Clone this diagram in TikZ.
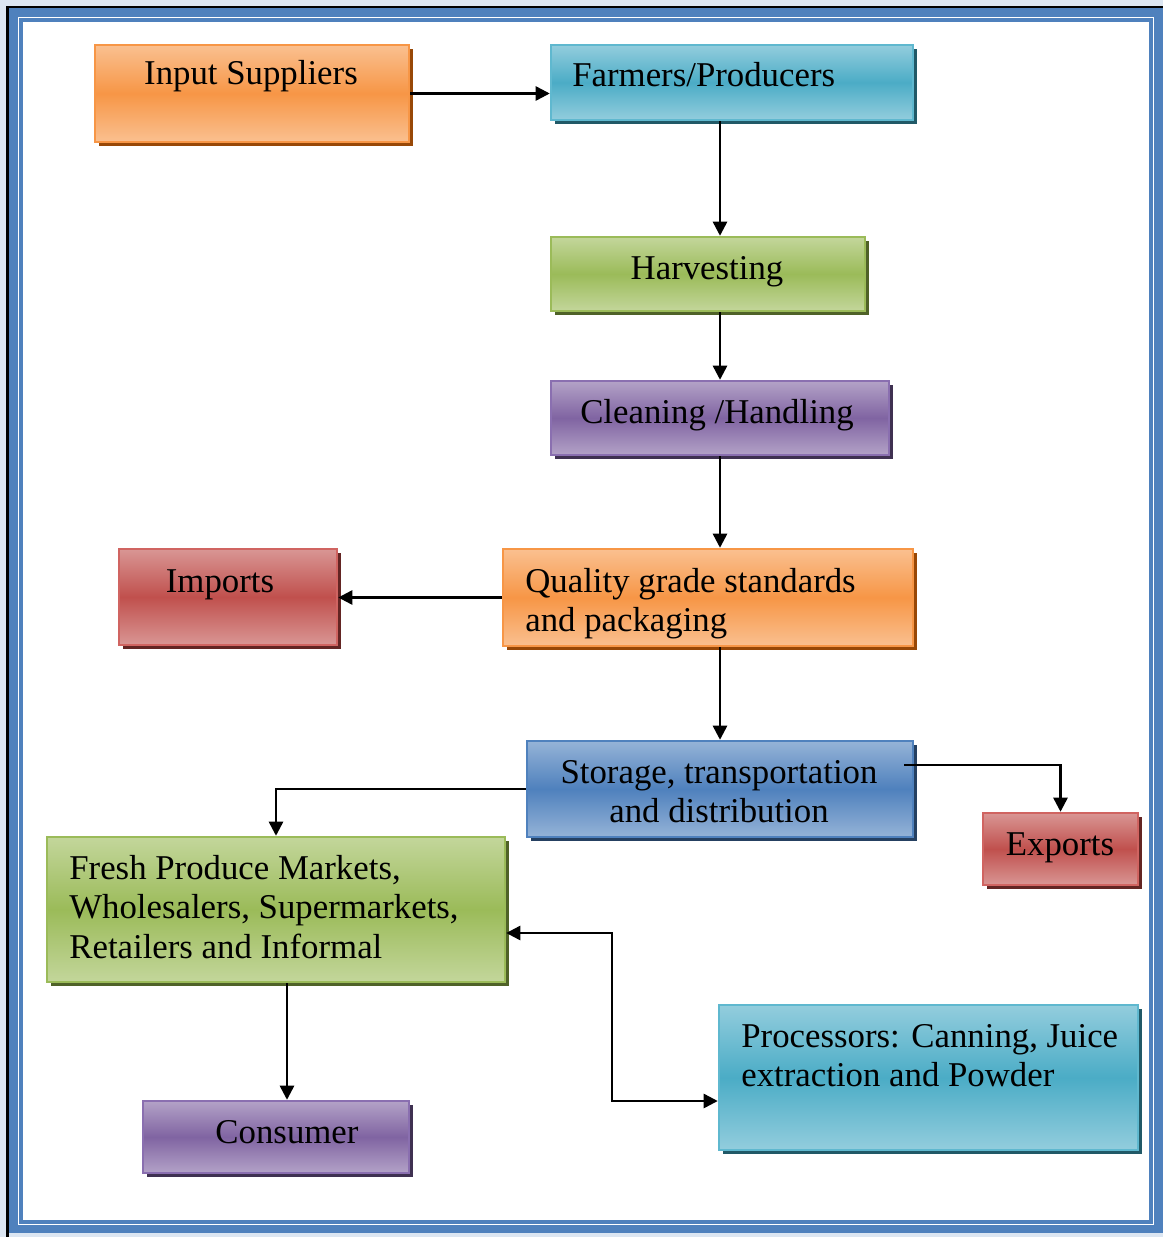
\documentclass[tikz,border=0pt]{standalone}
\usepackage{fontspec}
\setmainfont{Liberation Serif}
\usetikzlibrary{arrows.meta, positioning, calc, fit, shadows}

\definecolor{orangemid}{HTML}{F79646}
\definecolor{orangelight}{HTML}{FAC090}
\definecolor{orangeline}{HTML}{F79646}
\definecolor{orangeshade}{HTML}{984807}
\definecolor{aquamid}{HTML}{4BACC6}
\definecolor{aqualight}{HTML}{93CDDD}
\definecolor{aqualine}{HTML}{5FB8CF}
\definecolor{aquashade}{HTML}{215967}
\definecolor{greenmid}{HTML}{9BBB59}
\definecolor{greenlight}{HTML}{C3D69B}
\definecolor{greenline}{HTML}{9BBB59}
\definecolor{greenshade}{HTML}{4F6228}
\definecolor{purplemid}{HTML}{8064A2}
\definecolor{purplelight}{HTML}{B3A2C7}
\definecolor{purpleline}{HTML}{8A6FB0}
\definecolor{purpleshade}{HTML}{3F3151}
\definecolor{redmid}{HTML}{C0504D}
\definecolor{redlight}{HTML}{D99694}
\definecolor{redline}{HTML}{D06461}
\definecolor{redshade}{HTML}{632523}
\definecolor{bluemid}{HTML}{4F81BD}
\definecolor{bluelight}{HTML}{95B3D7}
\definecolor{blueline}{HTML}{4F81BD}
\definecolor{blueshade}{HTML}{254061}
\definecolor{pagebg}{HTML}{DCE6F2}

\tikzset{
  colbox/.style={inner sep=0pt, line width=1.4pt, draw=#1line,
    top color=#1light, bottom color=#1light, middle color=#1mid,
    drop shadow={shadow xshift=2.3pt, shadow yshift=-2.3pt, fill=#1shade, opacity=1}},
  txt/.style={inner sep=0pt, font=\fontsize{19.8}{22.4}\selectfont},
  arr/.style={line width=1.4pt, -{Triangle[length=8pt,width=8pt]}},
  arrtwo/.style={line width=1.4pt, {Triangle[length=8pt,width=8pt]}-{Triangle[length=8pt,width=8pt]}}
}

\begin{document}
\begin{tikzpicture}[x=0.02cm, y=-0.02cm]
  \useasboundingbox (0,0) rectangle (1163,1237);

  % Page frame
  \fill[pagebg] (0,0) rectangle (1163,1237);
  \fill[black] (6,6) rectangle (1163,9);
  \fill[black] (6,6) rectangle (9,1237);
  \fill[bluemid] (9,8) rectangle (1163,1233);
  \fill[white] (18,17) rectangle (1154,1225);
  \draw[bluemid, line width=2.2pt] (21,20) rectangle (1151,1222);

  % Boxes
  \node[colbox=orange, fit={(95,45) (409,142)}] (inp) {};
  \node[colbox=aqua, fit={(551,45) (913,120)}] (farm) {};
  \node[colbox=green, fit={(551,237) (865,311)}] (harv) {};
  \node[colbox=purple, fit={(551,381) (889,455)}] (cln) {};
  \node[colbox=orange, fit={(503,549) (913,646)}] (qual) {};
  \node[colbox=red, fit={(119,549) (337,645)}] (imp) {};
  \node[colbox=blue, fit={(527,741) (913,837)}] (stor) {};
  \node[colbox=red, fit={(983,813) (1138,885)}] (exp) {};
  \node[colbox=green, fit={(47,837) (505,982)}] (fresh) {};
  \node[colbox=aqua, fit={(719,1005) (1138,1150)}] (proc) {};
  \node[colbox=purple, fit={(143,1101) (409,1173)}] (cons) {};

  % Labels
  \node[txt, anchor=base] (inptext) at (251,85) {Input Suppliers};
  \node[txt, anchor=base west] (farmtext) at (572,87) {Farmers/Producers};
  \node[txt, anchor=base] (harvtext) at (707,279) {Harvesting};
  \node[txt, anchor=base] (clntext) at (717,423) {Cleaning /Handling};
  \node[txt, anchor=north west, align=left] (qualtext) at (525,564.4)
    {\strut Quality grade standards\\\strut and packaging};
  \node[txt, anchor=base] (imptext) at (220,592) {Imports};
  \node[txt, anchor=north, align=center] (stortext) at (719,755.4)
    {\strut Storage, transportation\\\strut and distribution};
  \node[txt, anchor=base] (exptext) at (1060,855) {Exports};
  \node[txt, anchor=north west, align=left] (freshtext) at (69,851.4)
    {\strut Fresh Produce Markets,\\\strut Wholesalers, Supermarkets,\\\strut Retailers and Informal};
  \node[txt, anchor=north west, align=left] (proctext) at (741,1019.4)
    {\strut Processors: Canning, Juice\\\strut extraction and Powder};
  \node[txt, anchor=base] (constext) at (287,1143) {Consumer};

  % Arrows
  \draw[arr] (inp.east) -- (inp.east -| farm.west);
  \draw[arr] (farm.south -| cln.north) -- (harv.north -| cln.north);
  \draw[arr] (harv.south -| cln.north) -- (cln.north);
  \draw[arr] (cln.south) -- (qual.north -| cln.south);
  \draw[arr] (qual.west) -- (qual.west -| imp.east);
  \draw[arr] (qual.south -| stor.north) -- (stor.north);
  \draw[arr] (stor.west) -| (fresh.north);
  \coordinate (storout) at (904,765);
  \draw[arr] (storout) -| (exp.north);
  \draw[arr] ($(fresh.south)+(11,0)$) -- ($(cons.north)+(11,0)$);
  \draw[arrtwo] ($(fresh.east)+(0,23.5)$) -- ++(106,0) |- ($(proc.west)+(0,23.5)$);
\end{tikzpicture}
\end{document}
